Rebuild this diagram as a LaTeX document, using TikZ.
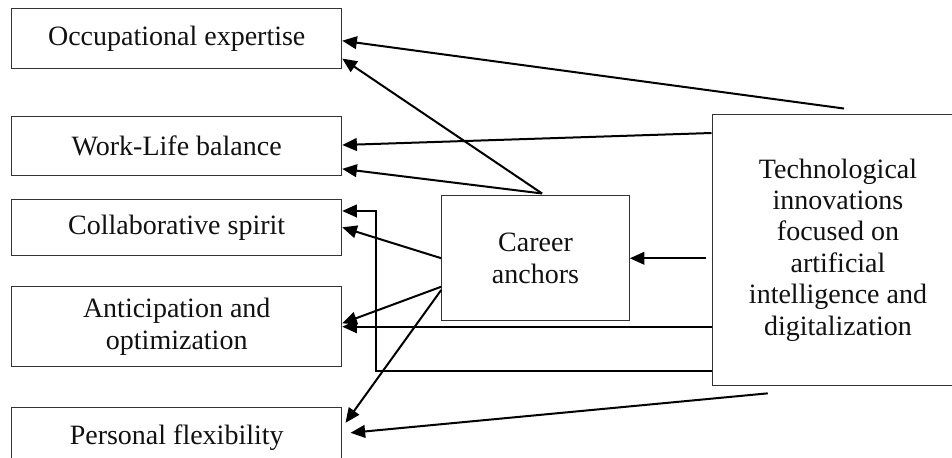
\documentclass[tikz,border=0pt]{standalone}
\usepackage{fontspec}
\setmainfont{Liberation Serif}
\usetikzlibrary{arrows.meta, positioning}
\definecolor{color_text}{HTML}{111111}
\definecolor{color_frame}{HTML}{333333}
\tikzset{
  factor_box/.style={draw=color_frame, line width=0.75pt, fill=white, align=center, inner sep=2pt,
    font=\fontsize{21}{23.6}\selectfont, text=color_text, minimum width=247.5pt},
  link_arrow/.style={-{Triangle[length=11pt, width=9.5pt]}, draw=black, line width=1.5pt},
  link_line/.style={draw=black, line width=1.5pt},
}

\begin{document}
\begin{tikzpicture}[x=0.75pt, y=-0.75pt]
    \clip (0,0) rectangle (952,457);
    % left column of factors
    \node[factor_box, minimum height=44.8pt] (expertise) at (176.7, 38.85) {Occupational expertise};
    \node[factor_box, minimum height=44.25pt] (worklife) at (176.7, 146.2) {Work-Life balance};
    \node[factor_box, minimum height=42.5pt] (collab) at (176.7, 227.35) {Collaborative spirit};
    \node[factor_box, minimum height=60pt] (anticip) at (176.7, 326.7) {Anticipation and\\optimization};
    \node[factor_box, minimum height=45pt] (flexibility) at (176.7, 437.7) {Personal flexibility};
    % middle and right
    \node[factor_box, minimum width=140.7pt, minimum height=93.75pt] (career) at (535.5, 258.2) {Career\\anchors};
    \node[factor_box, minimum width=189pt, minimum height=203.25pt] (tech) at (838, 250)
      {Technological\\innovations\\focused on\\artificial\\intelligence and\\digitalization};
    % career anchors to factors
    \draw[link_arrow] ([xshift=4.9pt, yshift=1.3pt]career.north) -- ([yshift=8pt]expertise.south east);
    \draw[link_arrow] ([xshift=4.9pt, yshift=1.3pt]career.north) -- ([yshift=5.5pt]worklife.south east);
    \draw[link_arrow] (career.west) -- (collab.east);
    \draw[link_arrow] ([yshift=-21.4pt]career.west) -- ([yshift=2.5pt]anticip.east);
    \draw[link_arrow] ([yshift=-23.85pt]career.west) -- ([xshift=2.5pt, yshift=-11.7pt]flexibility.north east);
    % technological innovations to factors
    \draw[link_arrow] ([xshift=4.5pt, yshift=4.1pt]tech.north) -- ([yshift=-1.4pt]expertise.east);
    \draw[link_arrow] ([yshift=-14.25pt]tech.north west) -- ([yshift=0.9pt]worklife.east);
    \draw[link_arrow] ([xshift=-4.5pt, yshift=-6.2pt]tech.west) -- ([yshift=-6.2pt]tech.west -| career.east);
    \draw[link_arrow] (tech.west |- anticip.east) -- (anticip.east);
    \draw[link_arrow] ([yshift=11.25pt]tech.south west) -| ([xshift=25.5pt, yshift=12.3pt]collab.east)
      -- ([yshift=12.3pt]collab.east);
    \draw[link_arrow] ([xshift=42.2pt, yshift=-5.5pt]tech.south west) -- ([xshift=6.2pt, yshift=-19.2pt]flexibility.north east);
  \end{tikzpicture}
\end{document}
